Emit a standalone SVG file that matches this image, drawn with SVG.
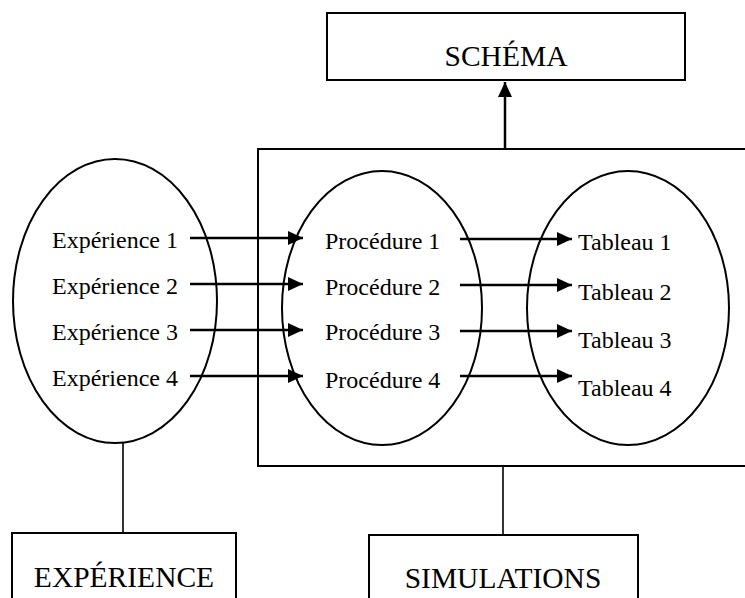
<svg xmlns="http://www.w3.org/2000/svg" width="745" height="598" viewBox="0 0 745 598">
  <style>
    .box { fill: none; stroke: #000; stroke-width: 2; }
    .ell { fill: none; stroke: #000; stroke-width: 2; }
    .lbl { font-family: "Liberation Serif", "Times New Roman", serif; font-size: 24px; fill: #000; }
    .big { font-family: "Liberation Serif", "Times New Roman", serif; font-size: 29.5px; fill: #000; text-anchor: middle; }
    .arr { stroke: #000; stroke-width: 2.5; fill: none; marker-end: url(#ah); }
    .ln { stroke: #000; stroke-width: 1.6; fill: none; }
  </style>
  <defs>
    <marker id="ah" markerUnits="userSpaceOnUse" markerWidth="16" markerHeight="15" refX="15" refY="7" orient="auto">
      <path d="M0,0 L15,7 L0,14 z" fill="#000"/>
    </marker>
  </defs>
  <rect width="745" height="598" fill="#fff"/>

  <g id="schema">
    <rect class="box" x="327" y="13" width="358" height="67"/>
    <text class="big" x="506" y="66">SCHÉMA</text>
  </g>

  <g id="simulation-frame">
    <rect class="box" x="258" y="149" width="500" height="317"/>
  </g>

  <g id="experiences">
    <ellipse class="ell" cx="115" cy="301" rx="102" ry="142"/>
    <text class="lbl" x="52" y="248">Expérience 1</text>
    <text class="lbl" x="52" y="294">Expérience 2</text>
    <text class="lbl" x="52" y="340">Expérience 3</text>
    <text class="lbl" x="52" y="386">Expérience 4</text>
  </g>

  <g id="procedures">
    <ellipse class="ell" cx="382" cy="308" rx="100" ry="137"/>
    <text class="lbl" x="325" y="249">Procédure 1</text>
    <text class="lbl" x="325" y="295">Procédure 2</text>
    <text class="lbl" x="325" y="340">Procédure 3</text>
    <text class="lbl" x="325" y="388">Procédure 4</text>
  </g>

  <g id="tableaux">
    <ellipse class="ell" cx="628" cy="308" rx="101" ry="137"/>
    <text class="lbl" x="578" y="250">Tableau 1</text>
    <text class="lbl" x="578" y="300">Tableau 2</text>
    <text class="lbl" x="578" y="348">Tableau 3</text>
    <text class="lbl" x="578" y="396">Tableau 4</text>
  </g>

  <g id="experience-box">
    <rect class="box" x="12" y="533" width="224" height="80"/>
    <text class="big" x="124" y="587">EXPÉRIENCE</text>
  </g>

  <g id="simulations-box">
    <rect class="box" x="369" y="535" width="269" height="80"/>
    <text class="big" x="503" y="588">SIMULATIONS</text>
  </g>

  <g id="connectors">
    <line class="arr" x1="505" y1="149" x2="505" y2="82"/>
    <line class="arr" x1="190" y1="238" x2="303" y2="238"/>
    <line class="arr" x1="190" y1="284" x2="303" y2="284"/>
    <line class="arr" x1="190" y1="330" x2="303" y2="330"/>
    <line class="arr" x1="190" y1="376" x2="303" y2="376"/>
    <line class="arr" x1="460" y1="239" x2="572" y2="239"/>
    <line class="arr" x1="460" y1="285" x2="572" y2="285"/>
    <line class="arr" x1="460" y1="331" x2="572" y2="331"/>
    <line class="arr" x1="460" y1="376" x2="572" y2="376"/>
    <line class="ln" x1="123" y1="443" x2="123" y2="533"/>
    <line class="ln" x1="503" y1="466" x2="503" y2="535"/>
  </g>
</svg>
